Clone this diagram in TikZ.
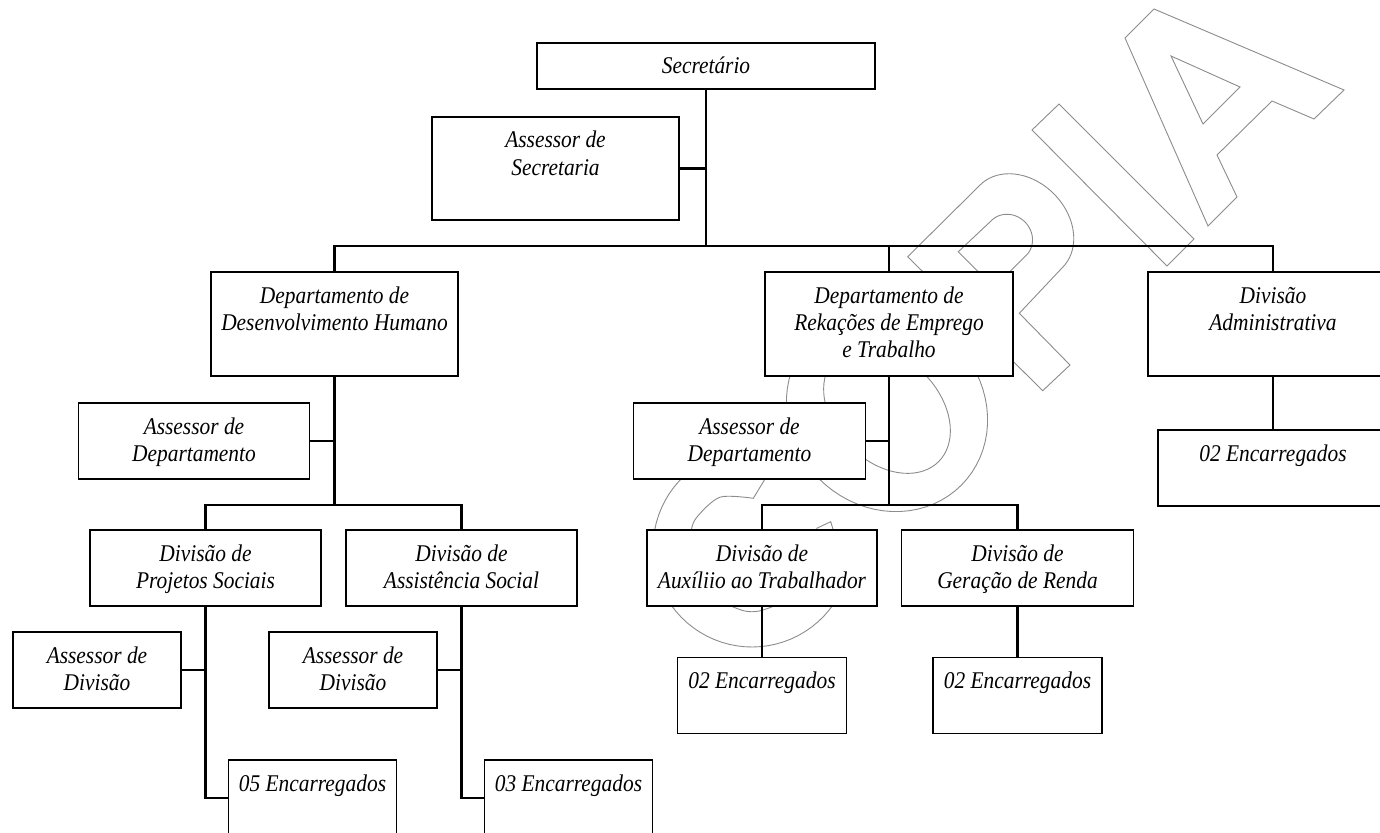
\documentclass[tikz,border=0pt]{standalone}
\usepackage{fontspec}
\setmainfont{Liberation Serif}
\usepackage{graphicx}
% box text: italic serif, slightly tall, lines centred
\newcommand\orgfont{\fontsize{21.4}{24.55}\selectfont\itshape}
\newcommand\boxtext[1]{\scalebox{1}[1.12]{\begin{tabular}{@{}c@{}}#1\end{tabular}}}
\begin{document}
\begin{tikzpicture}[x=1pt,y=-1pt,
  box/.style={draw=black, line width=1.4pt, fill=white, rectangle, inner sep=0pt, outer sep=0pt},
  lbl/.style={inner sep=0pt, outer sep=0pt, anchor=north, font=\orgfont},
  conn/.style={draw=black, line width=2.2pt, line join=miter},
  wm/.style={draw=black!45, line width=0.9pt, line join=miter}]

\useasboundingbox (0,0) rectangle (1380,832);
\clip (0,0) rectangle (1380,832);
\fill[white] (0,0) rectangle (1380,832);

% ---- outlined watermark letters ----
% C
\draw[wm] plot[domain=73.2:343.8, samples=60, variable=\t] ({752+99*cos(\t)},{548-99*sin(\t)})
  -- (830.7,521.7)
  -- plot[smooth] coordinates {(816.7,528.3) (815,559) (797.3,593.3) (762.9,610) (741.1,610) (707.5,592.5) (691.1,564.3) (691.1,531.7) (697.4,516.5) (720.2,497.1) (753.3,498.3)}
  -- cycle;
% O
\draw[wm] plot[domain=0:360, samples=73, variable=\t] ({887+0.7071*(96*cos(\t)+105*sin(\t))},{411+0.7071*(-96*cos(\t)+105*sin(\t))}) -- cycle;
\draw[wm] plot[domain=0:360, samples=73, variable=\t] ({887+0.7071*(52*cos(\t)+73*sin(\t))},{410+0.7071*(-52*cos(\t)+73*sin(\t))}) -- cycle;
% P
\draw[wm] (907.7,256.7)
  -- plot[domain=-90:90, samples=37, variable=\t] ({1021.25+0.7071*(46*cos(\t)+58.3*sin(\t))},{226.25+0.7071*(-46*cos(\t)+58.3*sin(\t))})
  -- (1019.3,313.3) -- (1070,365) -- (1042.7,390.7) -- cycle;
\draw[wm] (958.3,251.7)
  -- plot[domain=-90:90, samples=37, variable=\t] ({1008.9+0.7071*(22.6*cos(\t)+24.6*sin(\t))},{237.9+0.7071*(-22.6*cos(\t)+24.6*sin(\t))})
  -- (994.1,287.5) -- cycle;
% I
\draw[wm] (1059,104) -- (1194,239) -- (1167,266) -- (1032,130) -- cycle;
% A
\draw[wm] (1154,9) -- (1344,90) -- (1314,119) -- (1272,101) -- (1217,155) -- (1237,197) -- (1208,226) -- (1125,38) -- cycle;
\draw[wm] (1171,56) -- (1240,87) -- (1203,124) -- cycle;

% ---- boxes ----
\node[box, minimum width=338, minimum height=46]  (sec)    at (706,66)      {};
\node[box, minimum width=247, minimum height=103] (asec)   at (555.5,168.5) {};
\node[box, minimum width=247, minimum height=104] (dh)     at (334.5,324)   {};
\node[box, minimum width=248, minimum height=104] (re)     at (889,324)     {};
\node[box, minimum width=250, minimum height=104] (adm)    at (1273,324)    {};
\node[box, minimum width=231, minimum height=76]  (adep1)  at (194,441)     {};
\node[box, minimum width=232, minimum height=76]  (adep2)  at (749.5,441)   {};
\node[box, minimum width=230, minimum height=76]  (encadm) at (1273,468)    {};
\node[box, minimum width=231, minimum height=76]  (dps)    at (205.5,568)   {};
\node[box, minimum width=231, minimum height=76]  (das)    at (461.5,568)   {};
\node[box, minimum width=230, minimum height=76]  (dat)    at (762,568)     {};
\node[box, minimum width=232, minimum height=76]  (dgr)    at (1017.5,568)  {};
\node[box, minimum width=168, minimum height=76]  (adiv1)  at (97,670)      {};
\node[box, minimum width=168, minimum height=76]  (adiv2)  at (353,670)     {};
\node[box, minimum width=169, minimum height=76]  (encat)  at (762,695.5)   {};
\node[box, minimum width=169, minimum height=76]  (encgr)  at (1017.5,695.5){};
\node[box, minimum width=168, minimum height=76]  (enc05)  at (312.5,798)   {};
\node[box, minimum width=168, minimum height=76]  (enc03)  at (568.5,798)   {};

% ---- texts ----
\node[lbl] (sec-t)    at ([yshift=-11.75pt]sec.north)    {\boxtext{Secretário}};
\node[lbl] (asec-t)   at ([yshift=-11.75pt]asec.north)   {\boxtext{Assessor de\\Secretaria}};
\node[lbl] (dh-t)     at ([yshift=-11.75pt]dh.north)     {\boxtext{Departamento de\\Desenvolvimento Humano}};
\node[lbl] (re-t)     at ([yshift=-11.75pt]re.north)     {\boxtext{Departamento de\\Rekações de Emprego\\e Trabalho}};
\node[lbl] (adm-t)    at ([yshift=-11.75pt]adm.north)    {\boxtext{Divisão\\Administrativa}};
\node[lbl] (adep1-t)  at ([yshift=-11.75pt]adep1.north)  {\boxtext{Assessor de\\Departamento}};
\node[lbl] (adep2-t)  at ([yshift=-11.75pt]adep2.north)  {\boxtext{Assessor de\\Departamento}};
\node[lbl] (encadm-t) at ([yshift=-11.75pt]encadm.north) {\boxtext{02 Encarregados}};
\node[lbl] (dps-t)    at ([yshift=-11.75pt]dps.north)    {\boxtext{Divisão de\\Projetos Sociais}};
\node[lbl] (das-t)    at ([yshift=-11.75pt]das.north)    {\boxtext{Divisão de\\Assistência Social}};
\node[lbl] (dat-t)    at ([yshift=-11.75pt]dat.north)    {\boxtext{Divisão de\\Auxíliio ao Trabalhador}};
\node[lbl] (dgr-t)    at ([yshift=-11.75pt]dgr.north)    {\boxtext{Divisão de\\Geração de Renda}};
\node[lbl] (adiv1-t)  at ([yshift=-11.75pt]adiv1.north)  {\boxtext{Assessor de\\Divisão}};
\node[lbl] (adiv2-t)  at ([yshift=-11.75pt]adiv2.north)  {\boxtext{Assessor de\\Divisão}};
\node[lbl] (encat-t)  at ([yshift=-11.75pt]encat.north)  {\boxtext{02 Encarregados}};
\node[lbl] (encgr-t)  at ([yshift=-11.75pt]encgr.north)  {\boxtext{02 Encarregados}};
\node[lbl] (enc05-t)  at ([yshift=-11.75pt]enc05.north)  {\boxtext{05 Encarregados}};
\node[lbl] (enc03-t)  at ([yshift=-11.75pt]enc03.north)  {\boxtext{03 Encarregados}};

% ---- connectors ----
\coordinate (topbus) at (706,246);
\draw[conn] (sec.south) -- (topbus);
\draw[conn] (asec.east) -- (asec.east -| sec.south);
\draw[conn] (dh.north) |- (topbus) -| (adm.north);
\draw[conn] (re.north) -- (re.north |- topbus);

\coordinate (dhbus) at (334.5,505);
\draw[conn] (dh.south) -- (dhbus);
\draw[conn] (adep1.east) -- (adep1.east -| dh.south);
\draw[conn] (dps.north) |- (dhbus) -| (das.north);
\draw[conn] (dps.south) |- (enc05.west);
\draw[conn] (adiv1.east) -- (adiv1.east -| dps.south);
\draw[conn] (das.south) |- (enc03.west);
\draw[conn] (adiv2.east) -- (adiv2.east -| das.south);

\coordinate (rebus) at (889,505);
\draw[conn] (re.south) -- (rebus);
\draw[conn] (adep2.east) -- (adep2.east -| re.south);
\draw[conn] (dat.north) |- (rebus) -| (dgr.north);
\draw[conn] (dat.south) -- (encat.north);
\draw[conn] (dgr.south) -- (encgr.north);
\draw[conn] (adm.south) -- (encadm.north);
\end{tikzpicture}
\end{document}
